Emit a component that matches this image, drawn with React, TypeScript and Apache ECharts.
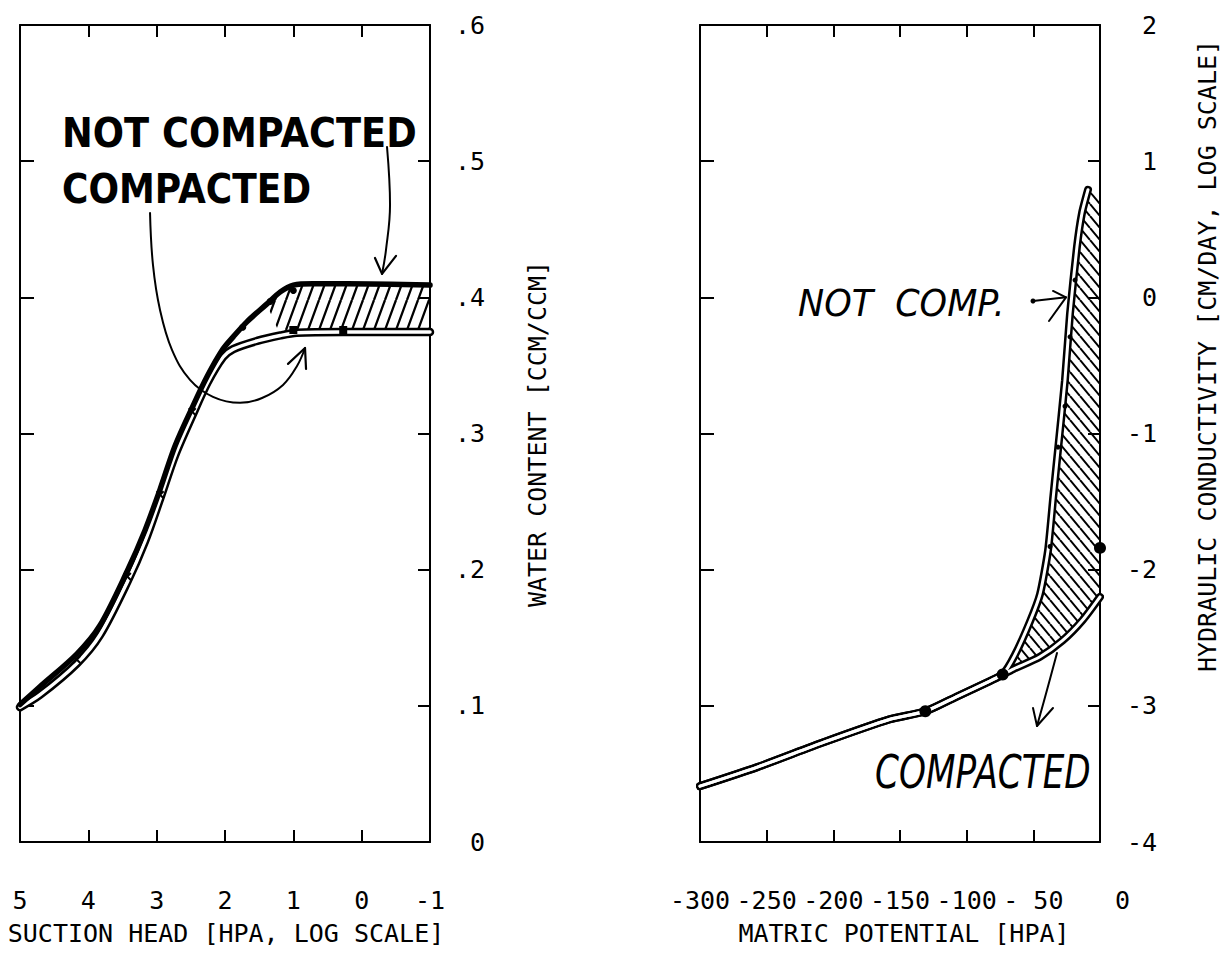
import React, { useEffect, useRef } from 'react';
import * as echarts from 'echarts';

// ---------- Left panel: water retention curve ----------
// x = log10 of suction head [hPa] (pF), y = volumetric water content [ccm/ccm]
const pfNotCompacted = [5, 4.71, 4.17, 3.83, 3.43, 3.17, 2.95, 2.73, 2.48, 2.26, 2.03, 1.88, 1.68, 1.39, 1.19, 1.0, 0.71, 0.21, -1];
const thetaNotCompacted = [0.101, 0.114, 0.138, 0.159, 0.199, 0.229, 0.259, 0.291, 0.319, 0.342, 0.362, 0.371, 0.382, 0.395, 0.404, 0.409, 0.41, 0.41, 0.409];
const pfCompacted = [5, 4.71, 4.17, 3.83, 3.43, 3.17, 2.95, 2.73, 2.48, 2.26, 2.03, 1.88, 1.53, 1.19, 0.95, 0.27, -1];
const thetaCompacted = [0.099, 0.108, 0.131, 0.152, 0.191, 0.221, 0.252, 0.284, 0.313, 0.337, 0.356, 0.362, 0.368, 0.372, 0.374, 0.3745, 0.3745];

const pfCrossMarks = [4.17, 3.43, 2.95, 2.48];
const thetaCrossMarks = [0.134, 0.195, 0.255, 0.316];
const pfSquareMarks = [1.0, 0.27];
const thetaSquareMarks = [0.376, 0.376];
const pfDotMarks = [1.74, 1.34, 1.0];
const thetaDotMarks = [0.378, 0.397, 0.405];

// hand-drawn arrows (data units)
const pfArrowNcShaft = [-0.371, -0.415, -0.356, -0.298];
const thetaArrowNcShaft = [0.5104, 0.4678, 0.4348, 0.4172];
const pfArrowNcHead = [-0.195, -0.298, -0.503];
const thetaArrowNcHead = [0.4289, 0.4172, 0.4304];
const pfArrowCShaft = [3.097, 3.054, 2.951, 2.776, 2.512, 2.176, 1.78, 1.458, 1.151, 0.946, 0.829];
const thetaArrowCShaft = [0.462, 0.4238, 0.3907, 0.3614, 0.3394, 0.3269, 0.3225, 0.3261, 0.3357, 0.3496, 0.3628];
const pfArrowCHead = [1.078, 0.829, 0.814];
const thetaArrowCHead = [0.3511, 0.3628, 0.3474];

const leftXTickLabels = ['-1', '0', '1', '2', '3', '4', '5'];
const leftYTickLabels = ['\u00a00', '.1', '.2', '.3', '.4', '.5', '.6'];

// ---------- Right panel: hydraulic conductivity ----------
// x = matric potential [hPa], y = log10 K [cm/day]
const hNotCompacted = [-300, -257, -208, -158, -131, -107, -83, -73, -64, -52.5, -45, -39, -35, -31.5, -26.3, -22.5, -17.3, -13.5, -9];
const kNotCompacted = [-3.59, -3.45, -3.27, -3.1, -3.04, -2.93, -2.82, -2.77, -2.63, -2.38, -2.18, -1.86, -1.46, -1.12, -0.61, -0.12, 0.37, 0.62, 0.79];
const hCompacted = [-300, -257, -208, -158, -131, -107, -83, -73, -65, -45, -28, -13, 0];
const kCompacted = [-3.59, -3.45, -3.27, -3.1, -3.04, -2.93, -2.82, -2.77, -2.73, -2.64, -2.52, -2.37, -2.2];
const hatchTopRight = [0, 0.72];

const hBigDots = [-131, -73, 0];
const kBigDots = [-3.04, -2.77, -1.84];
const hSmallMarks = [-18.75, -22.5, -26.25, -31.5, -37.5];
const kSmallMarks = [0.127, -0.29, -0.8, -1.1, -1.83];

const hArrowNcShaft = [-50.25, -25.5];
const kArrowNcShaft = [-0.027, 0.0];
const hArrowNcHead = [-35.25, -25.5, -38.25];
const kArrowNcHead = [0.047, 0.0, -0.174];
const hArrowCShaft = [-32.25, -39.75, -47.25];
const kArrowCShaft = [-2.612, -2.884, -3.148];
const hArrowCHead = [-50.25, -47.25, -35.25];
const kArrowCHead = [-3.016, -3.148, -3.016];

const rightXTickLabels = ['-300', '-250', '-200', '-150', '-100', '-\u00a050', '\u00a0\u00a0\u00a00'];
const rightYTickLabels = ['-4', '-3', '-2', '-1', '\u00a00', '\u00a01', '\u00a02'];

const MONO = '"DejaVu Sans Mono", monospace';
const HAND = '"DejaVu Sans", sans-serif';

const zip = (xs: number[], ys: number[]) => xs.map((x, i) => [x, ys[i]]);

function hatchPattern(w: number, h: number, dir: 'up' | 'down', lw: number) {
  const segs =
    dir === 'up'
      ? [[-w, h, 0, 0], [0, h, w, 0], [w, h, 2 * w, 0]]
      : [[-w, 0, 0, h], [0, 0, w, h], [w, 0, 2 * w, h]];
  const d = segs.map(([a, b, c, e]) => `M${a},${b}L${c},${e}`).join('');
  const svg = `<svg xmlns="http://www.w3.org/2000/svg" width="${w}" height="${h}"><path d="${d}" stroke="#000" stroke-width="${lw}" fill="none"/></svg>`;
  return {
    image: 'data:image/svg+xml;charset=utf-8,' + encodeURIComponent(svg),
    repeat: 'repeat',
    imageWidth: w,
    imageHeight: h,
  };
}

const axisLine = { show: true, onZero: false, lineStyle: { color: '#000', width: 2 } };
const tick = (len: number) => ({ show: true, inside: true, length: len, lineStyle: { color: '#000', width: 2 } });
const labelStyle = { color: '#000', fontFamily: MONO, fontSize: 25 };

export default function App() {
  const ref = useRef<HTMLDivElement>(null);

  useEffect(() => {
    if (!ref.current) return;
    const chart = echarts.init(ref.current, undefined, { renderer: 'svg' });

    const ncLeft = zip(pfNotCompacted, thetaNotCompacted);
    const cLeft = zip(pfCompacted, thetaCompacted);
    const leftBand = [
      ...ncLeft.filter((p) => p[0] <= 1.4),
      ...cLeft.filter((p) => p[0] <= 1.2).reverse(),
    ];

    const ncRight = zip(hNotCompacted, kNotCompacted);
    const cRight = zip(hCompacted, kCompacted);
    const rightBand = [
      ...ncRight.filter((p) => p[0] >= -73),
      hatchTopRight,
      ...cRight.filter((p) => p[0] >= -73).reverse(),
    ];

    const leftHatch = hatchPattern(11, 30, 'up', 2.3);
    const rightHatch = hatchPattern(10, 12, 'down', 2);

    const band = (xi: number, yi: number, pts: number[][], fill: any) => ({
      type: 'custom',
      xAxisIndex: xi,
      yAxisIndex: yi,
      silent: true,
      z: 1,
      data: [[0, 0]],
      renderItem: (_p: any, api: any) => ({
        type: 'polygon',
        shape: { points: pts.map((p) => api.coord(p)) },
        style: { fill, stroke: null },
      }),
    });

    const line = (xi: number, yi: number, data: number[][], width: number, color: string, z: number, smooth: number | boolean = 0.3) => ({
      type: 'line',
      xAxisIndex: xi,
      yAxisIndex: yi,
      data,
      smooth,
      showSymbol: false,
      silent: true,
      z,
      lineStyle: { color, width, cap: 'round', join: 'round' },
    });

    const marks = (xi: number, yi: number, data: number[][], symbol: string, size: number, rotate = 0) => ({
      type: 'scatter',
      xAxisIndex: xi,
      yAxisIndex: yi,
      data,
      symbol,
      symbolSize: size,
      symbolRotate: rotate,
      clip: false,
      silent: true,
      z: 6,
      itemStyle: { color: '#000', opacity: 1 },
    });

    const cross = 'path://M4,0H6V4H10V6H6V10H4V6H0V4H4Z';

    const text = (t: string, x: number, y: number, size: number, opts: any = {}) => ({
      type: 'text',
      x,
      y,
      z: 10,
      scaleX: opts.scaleX ?? 1,
      rotation: opts.rotation ?? 0,
      style: {
        text: t,
        fill: '#000',
        fontFamily: opts.family ?? MONO,
        fontSize: size,
        fontWeight: opts.weight ?? 'normal',
        fontStyle: opts.style ?? 'normal',
        align: opts.align ?? 'left',
        textAlign: opts.align ?? 'left',
        verticalAlign: 'middle',
        textVerticalAlign: 'middle',
      },
    });

    chart.setOption({
      animation: false,
      backgroundColor: '#fff',
      grid: [
        { left: 20, top: 25, width: 410, height: 817 },
        { left: 700, top: 25, width: 400, height: 817 },
      ],
      xAxis: [
        {
          gridIndex: 0, type: 'value', position: 'bottom', inverse: true, min: -1, max: 5, interval: 1,
          axisLine, axisTick: tick(12), splitLine: { show: false },
          axisLabel: { ...labelStyle, margin: 46, formatter: (v: number) => leftXTickLabels[Math.round(v) + 1] },
        },
        {
          gridIndex: 0, type: 'value', position: 'top', inverse: true, min: -1, max: 5, interval: 1,
          axisLine, axisTick: tick(12), splitLine: { show: false }, axisLabel: { show: false },
        },
        {
          gridIndex: 1, type: 'value', position: 'bottom', min: -300, max: 0, interval: 50,
          axisLine, axisTick: tick(12), splitLine: { show: false },
          axisLabel: { ...labelStyle, margin: 46, formatter: (v: number) => rightXTickLabels[Math.round((v + 300) / 50)] },
        },
        {
          gridIndex: 1, type: 'value', position: 'top', min: -300, max: 0, interval: 50,
          axisLine, axisTick: tick(12), splitLine: { show: false }, axisLabel: { show: false },
        },
      ],
      yAxis: [
        {
          gridIndex: 0, type: 'value', position: 'right', min: 0, max: 0.6, interval: 0.1,
          axisLine, axisTick: tick(12), splitLine: { show: false },
          axisLabel: { ...labelStyle, margin: 25, formatter: (v: number) => leftYTickLabels[Math.round(v * 10)] },
        },
        {
          gridIndex: 0, type: 'value', position: 'left', min: 0, max: 0.6, interval: 0.1,
          axisLine, axisTick: tick(14), splitLine: { show: false }, axisLabel: { show: false },
        },
        {
          gridIndex: 1, type: 'value', position: 'right', min: -4, max: 2, interval: 1,
          axisLine, axisTick: tick(12), splitLine: { show: false },
          axisLabel: { ...labelStyle, margin: 27, formatter: (v: number) => rightYTickLabels[Math.round(v) + 4] },
        },
        {
          gridIndex: 1, type: 'value', position: 'left', min: -4, max: 2, interval: 1,
          axisLine, axisTick: tick(14), splitLine: { show: false }, axisLabel: { show: false },
        },
      ],
      series: [
        // left panel
        band(0, 0, leftBand, leftHatch),
        line(0, 0, cLeft, 8.5, '#000', 2),
        line(0, 0, cLeft, 3.5, '#fff', 3),
        line(0, 0, ncLeft, 5.5, '#000', 4),
        marks(0, 0, zip(pfCrossMarks, thetaCrossMarks), cross, 10, 45),
        marks(0, 0, zip(pfSquareMarks, thetaSquareMarks), 'rect', 8),
        marks(0, 0, zip(pfDotMarks, thetaDotMarks), 'circle', 7),
        line(0, 0, zip(pfArrowNcShaft, thetaArrowNcShaft), 2, '#000', 5, 0.4),
        line(0, 0, zip(pfArrowNcHead, thetaArrowNcHead), 2.2, '#000', 5, false),
        line(0, 0, zip(pfArrowCShaft, thetaArrowCShaft), 2, '#000', 5, 0.4),
        line(0, 0, zip(pfArrowCHead, thetaArrowCHead), 2.2, '#000', 5, false),
        // right panel
        band(2, 2, rightBand, rightHatch),
        line(2, 2, cRight, 8, '#000', 2, 0.25),
        line(2, 2, cRight, 3, '#fff', 3, 0.25),
        line(2, 2, ncRight, 8, '#000', 2, 0.2),
        line(2, 2, ncRight, 3, '#fff', 3, 0.2),
        marks(2, 2, zip(hBigDots, kBigDots), 'circle', 12),
        marks(2, 2, zip(hSmallMarks, kSmallMarks), 'circle', 5),
        marks(2, 2, [[hArrowNcShaft[0], kArrowNcShaft[0]]], 'circle', 5),
        line(2, 2, zip(hArrowNcShaft, kArrowNcShaft), 2, '#000', 5, false),
        line(2, 2, zip(hArrowNcHead, kArrowNcHead), 2, '#000', 5, false),
        line(2, 2, zip(hArrowCShaft, kArrowCShaft), 2, '#000', 5, 0.4),
        line(2, 2, zip(hArrowCHead, kArrowCHead), 2, '#000', 5, false),
      ],
      graphic: [
        text('NOT COMPACTED', 62, 133, 40, { family: HAND, weight: 'bold', scaleX: 0.92 }),
        text('COMPACTED', 62, 189, 40, { family: HAND, weight: 'bold', scaleX: 0.9 }),
        text('NOT\u00a0\u00a0COMP.', 798, 303, 38, { family: HAND, style: 'italic', scaleX: 0.92 }),
        text('COMPACTED', 875, 772, 46, { family: HAND, style: 'italic', scaleX: 0.745 }),
        text('SUCTION HEAD [HPA, LOG SCALE]', 226, 933, 25, { align: 'center' }),
        text('MATRIC POTENTIAL [HPA]', 904, 933, 25, { align: 'center' }),
        text('WATER CONTENT [CCM/CCM]', 537, 434, 25, { align: 'center', rotation: Math.PI / 2 }),
        text('HYDRAULIC CONDUCTIVITY [CM/DAY, LOG SCALE]', 1207, 356, 25, { align: 'center', rotation: Math.PI / 2 }),
      ],
    });

    return () => chart.dispose();
  }, []);

  return (
    <div
      ref={ref}
      style={{ position: 'absolute', left: 0, top: 0, width: 1225, height: 963, background: '#fff' }}
    />
  );
}
